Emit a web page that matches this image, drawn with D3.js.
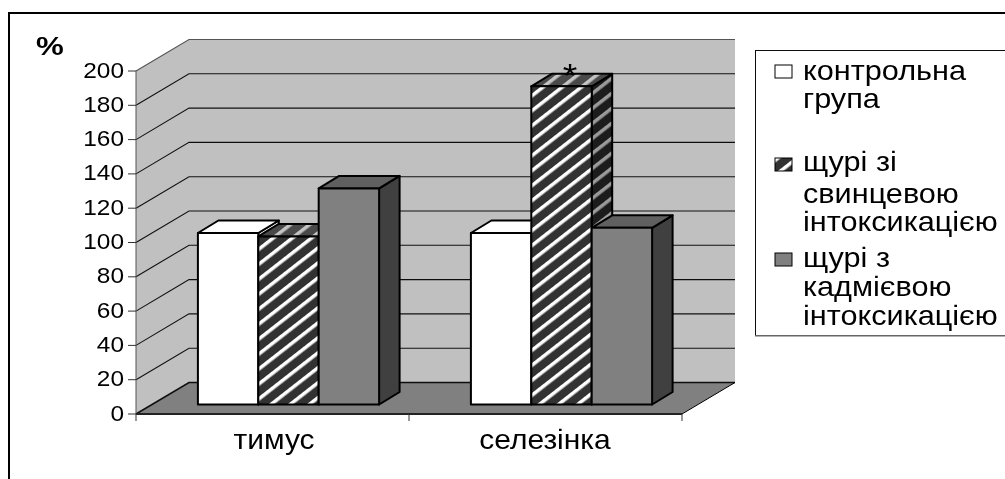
<!DOCTYPE html>
<html>
<head>
<meta charset="utf-8">
<script src="https://cdnjs.cloudflare.com/ajax/libs/d3/7.8.5/d3.min.js"></script>
<style>
  html, body { margin: 0; padding: 0; background: #fff; overflow: hidden; }
  text { font-family: "Liberation Sans", Arial, sans-serif; fill: #000; }
</style>
</head>
<body>
<svg id="chart" width="1005" height="479"></svg>
<script>
const categories = ["тимус", "селезінка"];
const seriesNames = ["контрольна група", "щурі зі свинцевою інтоксикацією", "щурі з кадмієвою інтоксикацією"];
const controlValues = [100, 100];
const leadValues = [98, 185.5];
const cadmiumValues = [126, 103];
const yTicks = [0, 20, 40, 60, 80, 100, 120, 140, 160, 180, 200];

const legendLines = [
  ["контрольна", "група"],
  ["щурі зі", "свинцевою", "інтоксикацією"],
  ["щурі з", "кадмієвою", "інтоксикацією"]
];
const legendLineY = [[80, 108], [171, 203, 231], [267, 296, 325]];
const legendKeyY = [65, 158, 253];

const svg = d3.select("#chart");
const defs = svg.append("defs");

// штриховка для свинцю
function hatch(id, dark, light, period, stripe) {
  const p = defs.append("pattern")
    .attr("id", id)
    .attr("patternUnits", "userSpaceOnUse")
    .attr("width", period).attr("height", period)
    .attr("patternTransform", "rotate(52)");
  p.append("rect").attr("width", period).attr("height", period).attr("fill", dark);
  p.append("rect").attr("x", 0).attr("width", stripe).attr("height", period).attr("fill", light);
}
hatch("hatchFront", "#333", "#fff", 11.8, 3.5);
hatch("hatchTop", "#4a4a4a", "#c4c4c4", 11.8, 3.5);
hatch("hatchSide", "#1c1c1c", "#9a9a9a", 11.8, 3.5);
hatch("hatchLegend", "#333", "#fff", 11.8, 3.5);

const softEdge = defs.append("filter").attr("id", "soft");
softEdge.append("feGaussianBlur").attr("stdDeviation", 0.45);

// рамка
svg.append("rect").attr("x", 9).attr("y", 13).attr("width", 1100).attr("height", 600)
  .attr("fill", "#fff").attr("stroke", "#000").attr("stroke-width", 2);

const root = svg.append("g").attr("filter", "url(#soft)");

// картинка розтягнута по горизонталі, тому текст теж
function stretched(parent, x, y, size, sx, anchor, str) {
  return parent.append("text")
    .attr("transform", `translate(${x},${y}) scale(${sx},1)`)
    .attr("text-anchor", anchor)
    .attr("font-size", size)
    .text(str);
}

const depthX = 53, depthY = 31.5;
const left = 136, right = 682;

const y = d3.scaleLinear().domain([0, 200]).range([414, 71]);
const x0 = d3.scaleBand().domain(categories).range([left, right]);
const x1 = d3.scaleBand().domain(seriesNames).range([0, x0.bandwidth()]).paddingInner(0).paddingOuter(0.76);

const poly = pts => pts.map(p => p.join(",")).join(" ");

// задня стінка, бокова стінка, підлога
root.append("polygon")
  .attr("points", poly([[left + depthX, y(200) - depthY], [right + depthX, y(200) - depthY], [right + depthX, y(0) - depthY], [left + depthX, y(0) - depthY]]))
  .attr("fill", "#c0c0c0");
root.append("polygon")
  .attr("points", poly([[left, y(200)], [left + depthX, y(200) - depthY], [left + depthX, y(0) - depthY], [left, y(0)]]))
  .attr("fill", "#c0c0c0");
root.append("polygon")
  .attr("points", poly([[left, y(0)], [right, y(0)], [right + depthX, y(0) - depthY], [left + depthX, y(0) - depthY]]))
  .attr("fill", "#808080");

yTicks.forEach(t => {
  root.append("polyline")
    .attr("points", poly([[left, y(t)], [left + depthX, y(t) - depthY], [right + depthX, y(t) - depthY]]))
    .attr("fill", "none")
    .attr("stroke", t === 200 ? "#555" : "#111")
    .attr("stroke-width", t === 0 ? 1.6 : 1.1);
});
root.append("line").attr("x1", right).attr("x2", right + depthX).attr("y1", y(0)).attr("y2", y(0) - depthY)
  .attr("stroke", "#000").attr("stroke-width", 1);

// вісь y
root.append("line").attr("x1", left).attr("x2", left).attr("y1", y(200)).attr("y2", y(0))
  .attr("stroke", "#555").attr("stroke-width", 1);
yTicks.forEach(t => {
  root.append("line").attr("x1", left - 8).attr("x2", left).attr("y1", y(t)).attr("y2", y(t))
    .attr("stroke", "#333").attr("stroke-width", 1);
  stretched(root, 124, y(t) + 6.5, 22, 1.11, "end", t);
});

// вісь x
root.append("line").attr("x1", left).attr("x2", right).attr("y1", y(0)).attr("y2", y(0))
  .attr("stroke", "#222").attr("stroke-width", 1.8);
[left, x0(categories[1]), right].forEach(v => {
  root.append("line").attr("x1", v).attr("x2", v).attr("y1", y(0)).attr("y2", y(0) + 7)
    .attr("stroke", "#333").attr("stroke-width", 1);
});
categories.forEach((c, i) => {
  stretched(root, i === 0 ? 274 : 545, 449, 27, 1.11, "middle", c);
});

// стовпчики
const barDx = 20.5, barDy = 12.5, baseDx = 16, baseDy = 9.5;
const styles = [
  { front: "#fff", top: "#fff", side: "#fff" },
  { front: "url(#hatchFront)", top: "url(#hatchTop)", side: "url(#hatchSide)" },
  { front: "#808080", top: "#606060", side: "#404040" }
];
const seriesValues = [controlValues, leadValues, cadmiumValues];

categories.forEach((c, ci) => {
  seriesNames.forEach((s, si) => {
    const xa = x0(c) + x1(s) + baseDx;
    const xb = xa + x1.bandwidth();
    const yb = y(0) - baseDy;
    const yt = yb - (y(0) - y(seriesValues[si][ci]));
    const st = styles[si];
    const g = root.append("g").attr("stroke", "#000").attr("stroke-width", 2).attr("stroke-linejoin", "round");
    g.append("polygon").attr("fill", st.side)
      .attr("points", poly([[xb, yt], [xb + barDx, yt - barDy], [xb + barDx, yb - barDy], [xb, yb]]));
    g.append("polygon").attr("fill", st.top)
      .attr("points", poly([[xa, yt], [xa + barDx, yt - barDy], [xb + barDx, yt - barDy], [xb, yt]]));
    g.append("polygon").attr("fill", st.front)
      .attr("points", poly([[xa, yt], [xb, yt], [xb, yb], [xa, yb]]));
  });
});

// зірочка і підпис осі
stretched(root, 570, 87, 34, 1.1, "middle", "*");
stretched(root, 36, 55, 25, 1.25, "start", "%").attr("font-weight", "bold");

// легенда
root.append("rect").attr("x", 755.5).attr("y", 50.5).attr("width", 300).attr("height", 285)
  .attr("fill", "#fff").attr("stroke", "#111").attr("stroke-width", 1);
root.append("line").attr("x1", 755).attr("x2", 1005).attr("y1", 335.7).attr("y2", 335.7)
  .attr("stroke", "#666").attr("stroke-width", 1.5);

const keyFills = ["#fff", "url(#hatchLegend)", "#808080"];

legendLines.forEach((lines, i) => {
  root.append("rect").attr("x", 775).attr("y", legendKeyY[i]).attr("width", 17).attr("height", 13)
    .attr("fill", keyFills[i]).attr("stroke", "#000").attr("stroke-width", 1);
  lines.forEach((line, j) => {
    stretched(root, 803, legendLineY[i][j], 27, 1.135, "start", line);
  });
});
</script>
</body>
</html>
